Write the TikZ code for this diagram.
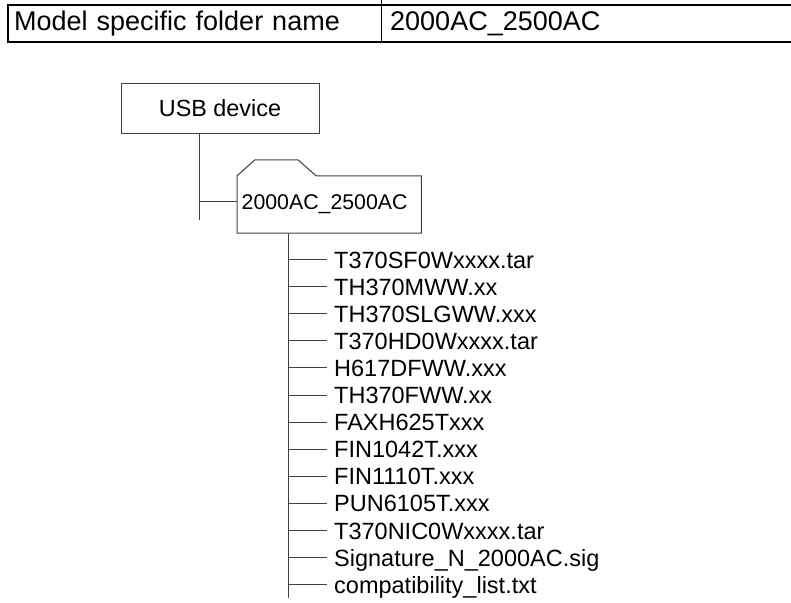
\documentclass[tikz,border=0pt]{standalone}
\usepackage{fontspec}
\setmainfont{Liberation Sans}
\usetikzlibrary{positioning}

\begin{document}
\begin{tikzpicture}[
  x=1pt,y=-1pt,
  cell/.style={anchor=west,minimum height=37pt,inner ysep=0pt,align=left,font=\fontsize{27}{32}\selectfont},
  box/.style={rectangle,draw=black!75,line width=1pt,minimum width=198pt,minimum height=50pt,font=\fontsize{23.4}{28}\selectfont},
  dir/.style={rectangle,anchor=west,minimum height=57pt,inner xsep=4.5pt,text width=175pt,align=left,font=\fontsize{21.3}{26}\selectfont},
  file/.style={anchor=west,inner xsep=7pt,inner ysep=0pt,text height=17pt,text depth=0pt,font=\fontsize{23.5}{28}\selectfont},
  edge/.style={draw=black!75,line width=1pt},
  rule/.style={line width=2.2pt}
]
  \useasboundingbox (0,0) rectangle (791,602);

  \node[cell,minimum width=373pt,text width=361pt,inner xsep=6pt] (key) at (8,23.5) {Model specific folder name};
  \node[cell,minimum width=420pt,text width=402pt,inner xsep=9pt] (value) at (381,23.5) {2000AC\_2500AC};
  \draw[rule] (value.north east) -- (key.north west) -- (key.south west) -- (value.south east);
  \draw (key.south east) -- (key.east |- 0,0);

  \node[box] (usb) at (220,108) {USB device};
  \node[dir] (folder) at (237,204.5) {2000AC\_2500AC};
  \draw[edge] (folder.north west) -- ++(18,-16) -- ++(43,0) -- ++(18,16) -- (folder.north east) -- (folder.south east) -- (folder.south west) -- cycle;

  \coordinate (usbend) at (199,220);
  \coordinate (join) at (199,201);
  \draw[edge] (usb.south -| usbend) -- (usbend);
  \draw[edge] (join) -- (join -| folder.west);

  \coordinate (trunkend) at (288,598);
  \draw[edge] (folder.south -| trunkend) -- (trunkend);
  \foreach \name [count=\i from 0] in {T370SF0Wxxxx.tar,TH370MWW.xx,TH370SLGWW.xxx,T370HD0Wxxxx.tar,H617DFWW.xxx,TH370FWW.xx,FAXH625Txxx,FIN1042T.xxx,FIN1110T.xxx,PUN6105T.xxx,T370NIC0Wxxxx.tar,Signature\_N\_2000AC.sig,compatibility\_list.txt}{
    \node[file] (f\i) at (327,{259.5+27.1*\i}) {\name};
    \draw[edge] (f\i.west) -- (f\i.west -| trunkend);
  }
\end{tikzpicture}
\end{document}
